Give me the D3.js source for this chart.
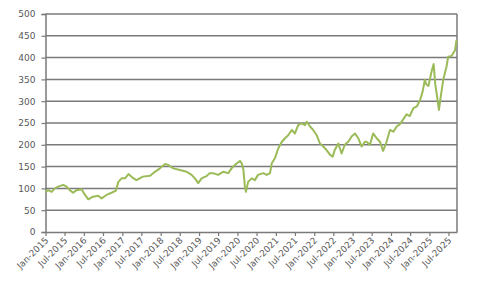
<!DOCTYPE html>
<html><head><meta charset="utf-8">
<script src="https://cdn.jsdelivr.net/npm/d3@7"></script>
<style>body{margin:0;background:#fff}svg{display:block}</style>
</head><body>
<script>
const dates = ["2015-01-01","2015-01-28","2015-02-28","2015-04-01","2015-05-01","2015-06-18","2015-07-20","2015-08-20","2015-09-20","2015-10-24","2015-12-10",
"2016-01-12","2016-02-12","2016-03-28","2016-05-15","2016-06-18","2016-08-03","2016-09-20","2016-11-01","2016-11-24","2016-12-25",
"2017-01-28","2017-02-28","2017-04-12","2017-05-15","2017-07-15","2017-09-22","2017-11-07","2017-12-25",
"2018-02-12","2018-03-12","2018-05-01","2018-07-03","2018-09-06","2018-10-22","2018-11-22","2018-12-24",
"2019-01-25","2019-03-12","2019-04-12","2019-05-15","2019-07-01","2019-08-18","2019-10-06","2019-11-06","2019-12-24",
"2020-01-25","2020-02-12","2020-02-27","2020-03-12","2020-03-22","2020-04-12","2020-05-15","2020-06-15","2020-07-15","2020-09-03","2020-10-06","2020-11-06","2020-11-22","2020-12-22",
"2021-01-24","2021-02-27","2021-03-28","2021-04-28","2021-06-01","2021-07-01","2021-08-01","2021-09-03","2021-10-04","2021-10-22","2021-11-22","2021-12-22",
"2022-01-24","2022-02-24","2022-03-28","2022-04-28","2022-06-01","2022-06-25","2022-07-15","2022-08-18","2022-09-18","2022-10-18","2022-11-20","2022-12-22",
"2023-01-24","2023-02-24","2023-03-28","2023-04-28","2023-05-12","2023-06-15","2023-07-15","2023-08-18","2023-09-18","2023-10-18","2023-11-20","2023-12-22",
"2024-01-24","2024-02-24","2024-03-25","2024-04-28","2024-05-28","2024-06-28","2024-08-01","2024-09-03","2024-10-04","2024-10-28","2024-11-18","2024-12-01","2024-12-22",
"2025-01-25","2025-02-10","2025-02-25","2025-03-15","2025-04-01","2025-04-18","2025-05-12","2025-06-12","2025-06-28","2025-08-01","2025-08-15","2025-09-01","2025-09-15"];
const values = [92,96,92,100,104,108,104,96,90,96,98,
85,75,81,83,77,85,90,95,115,123,
123,133,124,119,127,129,138,146,
156,154,146,142,138,131,123,112,
123,128,135,135,131,138,135,146,157,
163,157,142,104,92,115,123,119,131,135,131,135,157,169,
192,207,215,222,234,226,245,249,245,253,242,234,
222,203,196,188,177,173,188,203,180,200,207,219,
226,215,196,207,207,200,226,215,207,186,207,234,
230,242,247,259,270,266,284,288,303,322,349,339,335,
372,385,339,310,280,310,349,379,402,404,410,417,440];
const yTicks = [0,50,100,150,200,250,300,350,400,450,500];
const xStart = "2015-01-01", xEnd = "2025-09-20";

const W = 482, H = 290;
const parse = d3.timeParse("%Y-%m-%d");
const data = dates.map((d,i)=>({date:parse(d), value:values[i]}));
const svg = d3.select("body").append("svg").attr("width",W).attr("height",H);
const L = 45.5, R = 457, T = 14, B = 232;
const x = d3.scaleTime().domain([parse(xStart), parse(xEnd)]).range([L,R]);
const y = d3.scaleLinear().domain([0,500]).range([B,T]);
const grey = "#7a7a7a", txt = "#595959", font = "DejaVu Sans, Verdana, sans-serif";

// gridlines
svg.append("g").selectAll("line").data(yTicks.filter(v=>v>0)).join("line")
  .attr("x1",L).attr("x2",R).attr("y1",d=>y(d)).attr("y2",d=>y(d))
  .attr("stroke",grey).attr("stroke-width",1.5);
// right border
svg.append("line").attr("x1",R).attr("x2",R).attr("y1",T).attr("y2",B).attr("stroke",grey).attr("stroke-width",1.5);

// y axis
const ya = svg.append("g").attr("transform",`translate(${L},0)`)
  .call(d3.axisLeft(y).tickValues(yTicks).tickSize(4).tickPadding(6));
ya.select(".domain").attr("stroke",grey).attr("stroke-width",1.5);
ya.selectAll(".tick line").attr("stroke",grey).attr("stroke-width",1.2);
ya.selectAll("text").attr("fill",txt).style("font-family",font).style("font-size","9px");

// x axis
const xTicks = d3.timeMonth.every(6).range(parse("2015-01-01"), parse("2025-08-01"));
const xa = svg.append("g").attr("transform",`translate(0,${B})`)
  .call(d3.axisBottom(x).tickValues(xTicks).tickFormat(d3.timeFormat("%b-%Y")).tickSize(4).tickSizeOuter(0));
xa.select(".domain").attr("stroke",grey).attr("stroke-width",1.5);
xa.selectAll(".tick line").attr("stroke",grey).attr("stroke-width",1.2);
xa.selectAll("text").attr("fill",txt).style("font-family",font).style("font-size","9px")
  .attr("text-anchor","end").attr("dy",0).attr("y",0)
  .attr("transform","translate(3,9) rotate(-45)");

// line
svg.append("path").datum(data)
  .attr("fill","none").attr("stroke","#9bbb59").attr("stroke-width",2).attr("stroke-linejoin","round")
  .attr("d", d3.line().x(d=>x(d.date)).y(d=>y(d.value)));
</script>
</body></html>
